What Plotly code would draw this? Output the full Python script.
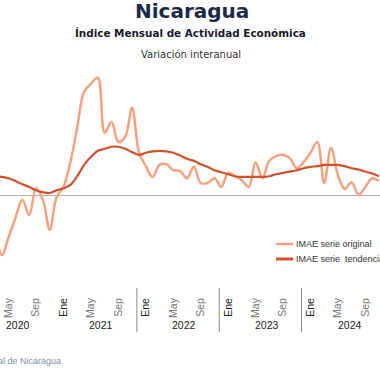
import plotly.graph_objects as go

# month index: 0 = Ene 2020
month_index = list(range(2, 59))

imae_original = [-0.4, -9.0, -6.3, -3.4, -0.7, -3.0, 1.0, -0.7, -5.2, -0.3,
                 1.2, 4.9, 10.1, 15.4, 16.6, 17.5, 9.3, 10.9, 7.9, 8.7,
                 13.0, 6.4, 4.3, 2.7, 4.5, 4.6, 3.7, 3.6, 2.5, 4.2,
                 1.8, 1.8, 2.5, 1.2, 3.3, 2.8, 2.2, 1.2, 4.9, 2.5,
                 5.1, 5.8, 6.0, 5.5, 4.0, 4.9, 6.3, 7.9, 1.8, 7.0,
                 3.0, 0.9, 1.9, 0.0, 1.2, 2.5, 2.1]

imae_tendencia = [2.8, 2.7, 2.5, 2.1, 1.6, 1.2, 0.7, 0.4, 0.3, 0.7,
                  1.0, 1.5, 2.8, 4.5, 5.7, 6.6, 6.9, 7.2, 7.2, 6.9,
                  6.4, 6.0, 6.3, 6.5, 6.6, 6.5, 6.3, 5.9, 5.4, 5.1,
                  4.6, 4.2, 3.7, 3.4, 3.1, 2.8, 2.7, 2.7, 2.7, 2.7,
                  2.8, 3.1, 3.3, 3.5, 3.7, 4.0, 4.2, 4.3, 4.5, 4.5,
                  4.5, 4.3, 4.0, 3.8, 3.5, 3.2, 2.8]

tick_months = [4, 8, 12, 16, 20, 24, 28, 32, 36, 40, 44, 48, 52, 56]
tick_names = ["May", "Sep", "Ene", "May", "Sep", "Ene", "May", "Sep",
              "Ene", "May", "Sep", "Ene", "May", "Sep"]

years = ["2020", "2021", "2022", "2023", "2024"]
year_centers = [5.4, 17.5, 29.6, 41.7, 53.7]
year_separators = [22.7, 34.7, 46.7]

C_ORIG = "#FAA07E"
C_TREND = "#D0512A"

W, H = 380, 380
T, B = 70, 288  # plot area top/bottom in px
ph = B - T


def py(pix):
    return (B - pix) / ph


fig = go.Figure()
fig.add_trace(go.Scatter(x=month_index, y=imae_original, mode="lines",
                         line=dict(color=C_ORIG, width=2.5, shape="spline", smoothing=1),
                         name="IMAE serie original", showlegend=False))
fig.add_trace(go.Scatter(x=month_index, y=imae_tendencia, mode="lines",
                         line=dict(color=C_TREND, width=2.2, shape="spline", smoothing=1),
                         name="IMAE serie  tendencia", showlegend=False))

ticktext = [("<span style='color:#222'>%s</span>" % t) if t == "Ene" else t for t in tick_names]

scale = 6.7
fig.update_layout(
    width=W, height=H,
    margin=dict(l=0, r=0, t=T, b=H - B, pad=0, autoexpand=False),
    paper_bgcolor="white", plot_bgcolor="white",
    xaxis=dict(range=[2.744, 58.14], showgrid=False, zeroline=False, showline=False,
               tickmode="array", tickvals=tick_months, ticktext=ticktext,
               tickangle=-90, ticks="", ticklabelstandoff=7, automargin=False,
               tickfont=dict(family="Liberation Sans, Arial", size=10.5, color="#777")),
    yaxis=dict(range=[-(B - 195) / scale, (195 - T) / scale], showgrid=False,
               zeroline=True, zerolinecolor="#B0B0B0", zerolinewidth=1.2,
               showticklabels=False, showline=False, automargin=False),
    showlegend=False,
)

ann = []
ann.append(dict(text="<b>Nicaragua</b>", x=0.505, y=py(11), xref="paper", yref="paper",
                yanchor="middle", showarrow=False,
                font=dict(family="DejaVu Sans", size=20, color="#1B2A47")))
ann.append(dict(text="<b>Índice Mensual de Actividad Económica</b>", x=0.5, y=py(33),
                xref="paper", yref="paper", yanchor="middle", showarrow=False,
                font=dict(family="DejaVu Sans", size=10.4, color="#1A1A2E")))
ann.append(dict(text="Variación interanual", x=0.503, y=py(54), xref="paper", yref="paper",
                yanchor="middle", showarrow=False,
                font=dict(family="DejaVu Sans", size=10, color="#333")))
for yr, xc in zip(years, year_centers):
    ann.append(dict(text=yr, x=xc, y=py(325), xref="x", yref="paper", yanchor="middle",
                    showarrow=False,
                    font=dict(family="Liberation Sans, Arial", size=10.5, color="#222")))
ann.append(dict(text="Fuente: Banco Central de Nicaragua", x=63 / W, y=py(361),
                xref="paper", yref="paper", xanchor="right", yanchor="middle", showarrow=False,
                font=dict(family="Liberation Sans, Arial", size=9, color="#8090AE")))
# legend
leg_items = [("IMAE serie original", C_ORIG, 244, 2.5), ("IMAE serie \u00a0tendencia", C_TREND, 259, 3)]
shapes = []
for name, col, yp, lw in leg_items:
    shapes.append(dict(type="line", xref="paper", yref="paper", x0=276 / W, x1=293 / W,
                       y0=py(yp), y1=py(yp), line=dict(color=col, width=lw)))
    ann.append(dict(text=name, x=294 / W, y=py(yp), xref="paper", yref="paper",
                    xanchor="left", yanchor="middle", showarrow=False,
                    font=dict(family="Liberation Sans, Arial", size=9, color="#333")))
for s in year_separators:
    shapes.append(dict(type="line", xref="x", yref="paper", x0=s, x1=s,
                       y0=py(288), y1=py(332), line=dict(color="#888", width=1)))

fig.update_layout(annotations=ann, shapes=shapes)
fig.write_html("out.html", config={"displayModeBar": False},
               post_script="document.body.style.margin='0';")
